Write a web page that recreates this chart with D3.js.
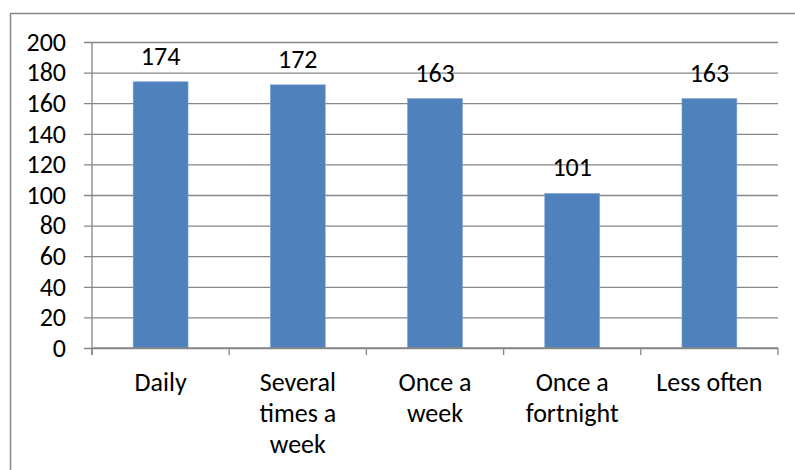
<!DOCTYPE html>
<html>
<head>
<meta charset="utf-8">
<script src="https://cdn.jsdelivr.net/npm/d3@7"></script>
<style>
  html, body { margin: 0; padding: 0; background: #fff; }
  svg { display: block; }
  text { font-family: Carlito, Calibri, "Open Sans", "Liberation Sans", sans-serif; fill: #000; }
</style>
</head>
<body>
<svg id="chart" width="795" height="470"></svg>
<script>
// Frequency categories (wrapped labels split on "\n")
const categories = ["Daily", "Several\ntimes a\nweek", "Once a\nweek", "Once a\nfortnight", "Less often"];
const counts = [174, 172, 163, 101, 163];
const yTicks = [0, 20, 40, 60, 80, 100, 120, 140, 160, 180, 200];

const svg = d3.select("#chart");
const W = 795, H = 470;
const plot = { left: 92, right: 778, top: 42, bottom: 348 };
const FONT = 26;

// Outer chart frame
svg.append("rect")
  .attr("x", 10.5).attr("y", 13.5)
  .attr("width", W).attr("height", H)
  .attr("fill", "none").attr("stroke", "#868686").attr("stroke-width", 1.5);

const x = d3.scaleBand()
  .domain(categories)
  .range([plot.left, plot.right])
  .paddingInner(0.6)
  .paddingOuter(0.3);

const y = d3.scaleLinear().domain([0, 200]).range([plot.bottom, plot.top]);

// Horizontal gridlines with left tick marks and value labels
const yAxis = d3.axisLeft(y)
  .tickValues(yTicks)
  .tickSize(-(plot.right - plot.left) - 8)
  .tickSizeOuter(0)
  .tickPadding(18);

const gy = svg.append("g")
  .attr("transform", `translate(${plot.left - 8},0)`)
  .call(yAxis);
gy.select(".domain").remove();
gy.selectAll(".tick line").attr("stroke", "#868686").attr("stroke-width", 1.3);
gy.selectAll(".tick text")
  .attr("font-size", FONT)
  .attr("font-family", "Carlito, Calibri, 'Open Sans', 'Liberation Sans', sans-serif")
  .attr("fill", "#000");

// Vertical value axis line
svg.append("line")
  .attr("x1", plot.left).attr("x2", plot.left)
  .attr("y1", plot.top).attr("y2", plot.bottom + 7)
  .attr("stroke", "#868686").attr("stroke-width", 1.3);

// Bars
svg.append("g").selectAll("rect")
  .data(categories)
  .join("rect")
  .attr("x", d => x(d))
  .attr("width", x.bandwidth())
  .attr("y", (d, i) => y(counts[i]))
  .attr("height", (d, i) => y(0) - y(counts[i]))
  .attr("fill", "#4F81BD")
  .attr("stroke", "#7FA3D1")
  .attr("stroke-width", 0.6);

// Value labels above bars
svg.append("g").selectAll("text")
  .data(categories)
  .join("text")
  .attr("x", d => x(d) + x.bandwidth() / 2)
  .attr("y", (d, i) => y(counts[i]) - 17)
  .attr("text-anchor", "middle")
  .attr("font-size", FONT)
  .text((d, i) => counts[i]);

// Category axis: baseline with boundary ticks between categories
const boundaries = d3.range(categories.length + 1).map(i => plot.left + i * (plot.right - plot.left) / categories.length);
svg.append("line")
  .attr("x1", plot.left).attr("x2", plot.right)
  .attr("y1", plot.bottom).attr("y2", plot.bottom)
  .attr("stroke", "#868686").attr("stroke-width", 1.3);
svg.append("g").selectAll("line")
  .data(boundaries)
  .join("line")
  .attr("x1", d => d).attr("x2", d => d)
  .attr("y1", plot.bottom).attr("y2", plot.bottom + 7)
  .attr("stroke", "#868686").attr("stroke-width", 1.3);

// Category labels, wrapped over several lines
const labels = svg.append("g").selectAll("text")
  .data(categories)
  .join("text")
  .attr("text-anchor", "middle")
  .attr("font-size", FONT)
  .attr("transform", d => `translate(${x(d) + x.bandwidth() / 2},${plot.bottom + 43})`);
labels.selectAll("tspan")
  .data(d => d.split("\n"))
  .join("tspan")
  .attr("x", 0)
  .attr("dy", (d, i) => i === 0 ? 0 : 31)
  .text(d => d);
</script>
</body>
</html>
